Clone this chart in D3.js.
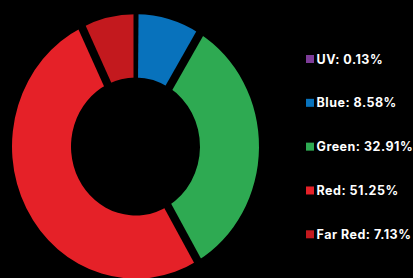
<!DOCTYPE html>
<html>
<head>
<meta charset="utf-8">
<script src="https://cdn.jsdelivr.net/npm/d3@7/dist/d3.min.js"></script>
<style>
  html, body { margin: 0; padding: 0; background: #000; }
  svg { display: block; }
</style>
</head>
<body>
<svg id="chart" width="413" height="278"></svg>
<script>
const categories = ["UV", "Blue", "Green", "Red", "Far Red"];
const values = [0.13, 8.58, 32.91, 51.25, 7.13];
const labels = ["UV: 0.13%", "Blue: 8.58%", "Green: 32.91%", "Red: 51.25%", "Far Red: 7.13%"];
const colors = ["#7d3c98", "#0872bc", "#2eaa52", "#e52128", "#c3191e"];

const W = 413, H = 278;
const svg = d3.select("#chart");
svg.append("rect").attr("width", W).attr("height", H).attr("fill", "#000");

const cx = 135.5, cy = 146.5, rOuter = 123.5, rInner = 64.5, sy = 1.07;
const g = svg.append("g").attr("transform", `translate(${cx},${cy}) scale(1,${sy})`);

const pie = d3.pie().sort(null).value(d => d.value);
const data = categories.map((c, i) => ({ cat: c, value: values[i], color: colors[i] }));
const arcs = pie(data);
const arc = d3.arc().innerRadius(rInner).outerRadius(rOuter);

g.selectAll("path.slice").data(arcs).enter().append("path")
  .attr("class", "slice")
  .attr("d", arc)
  .attr("fill", d => d.data.color);

// separators at slice boundaries
const bounds = arcs.map((d, i) => ({
  angle: d.startAngle,
  w: (d.data.cat === "UV" || (i > 0 && arcs[i - 1].data.cat === "UV")) ? 4 : 8
}));
g.selectAll("line.sep").data(bounds).enter().append("line")
  .attr("class", "sep")
  .attr("x1", d => Math.sin(d.angle) * (rInner - 5))
  .attr("y1", d => -Math.cos(d.angle) * (rInner - 5))
  .attr("x2", d => Math.sin(d.angle) * (rOuter + 5))
  .attr("y2", d => -Math.cos(d.angle) * (rOuter + 5))
  .attr("stroke", "#000")
  .attr("stroke-width", d => d.w);

// legend
const legendY = d3.scalePoint().domain(categories).range([59, 234.3]);
const lg = svg.append("g");
const items = lg.selectAll("g.item").data(data).enter().append("g")
  .attr("class", "item")
  .attr("transform", d => `translate(306,${legendY(d.cat)})`);
items.append("rect")
  .attr("x", 0).attr("y", -4).attr("width", 8).attr("height", 8)
  .attr("fill", d => d.color);
items.append("text")
  .attr("x", 10.5).attr("y", 0)
  .attr("dy", "0.36em")
  .attr("fill", "#fff")
  .style("font-family", "Inter, 'Open Sans', sans-serif")
  .style("font-weight", 700)
  .style("font-size", "12.5px")
  .style("letter-spacing", "0.5px")
  .text((d, i) => labels[i]);
</script>
</body>
</html>
